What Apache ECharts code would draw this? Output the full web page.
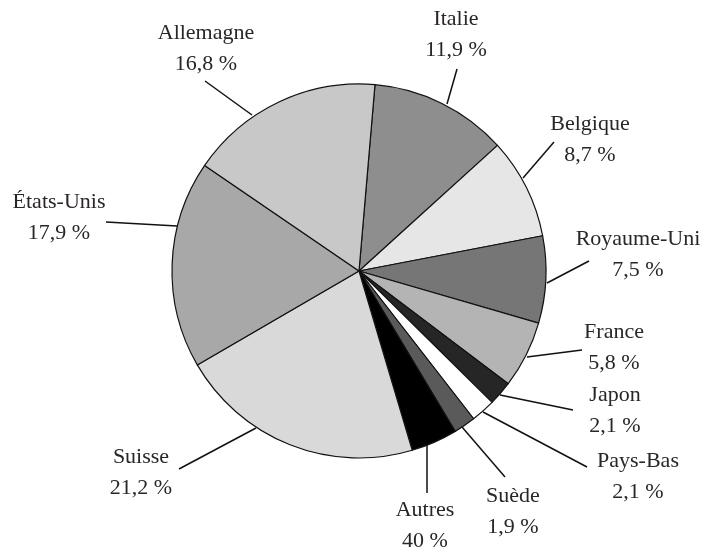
<!DOCTYPE html>
<html>
<head>
<meta charset="utf-8">
<style>
  html, body { margin: 0; padding: 0; background: #fff; }
  #pie { width: 708px; height: 553px; }
</style>
<script src="https://cdn.jsdelivr.net/npm/echarts@6/dist/echarts.min.js"></script>
</head>
<body>
<div id="pie"></div>
<script>
// données du graphique (sens horaire, à partir du haut)
var pays = ['Italie', 'Belgique', 'Royaume-Uni', 'France', 'Japon', 'Pays-Bas', 'Suède', 'Autres', 'Suisse', 'États-Unis', 'Allemagne'];
var parts = [11.9, 8.7, 7.5, 5.8, 2.1, 2.1, 1.9, 4.0, 21.2, 17.9, 16.8];
// libellés tels qu'imprimés
var libelles = ['11,9 %', '8,7 %', '7,5 %', '5,8 %', '2,1 %', '2,1 %', '1,9 %', '40 %', '21,2 %', '17,9 %', '16,8 %'];

// niveaux de gris des parts
var gris = ['#8e8e8e', '#e6e6e6', '#767676', '#b4b4b4', '#262626', '#ffffff', '#5a5a5a', '#000000', '#d9d9d9', '#a8a8a8', '#c8c8c8'];

// mise en page : centre du camembert et rayon
var CX = 359, CY = 271, R = 187;
// filets : [départ sur le bord, extrémité], décalages par rapport au centre
var filets = [
    [[88, -167], [98, -202]],
    [[164, -93], [195, -129]],
    [[188, 12], [230, -10]],
    [[168, 86], [223, 79]],
    [[141, 124], [214, 139]],
    [[124, 141], [228, 196]],
    [[103, 156], [146, 206]],
    [[68, 174], [68, 222]],
    [[-103, 157], [-180, 198]],
    [[-182, -45], [-253, -49]],
    [[-107, -156], [-154, -190]]
];
// centre du bloc de texte, décalage par rapport au centre
var blocs = [
    [97, -236], [231, -131], [279, -16], [255, 77], [256, 140], [279, 206],
    [154, 241], [66, 255], [-218, 202], [-300, -53], [-153, -222]
];

(function(){
    var dom = document.getElementById('pie');
    var myChart = echarts.init(dom);

    var data = [];
    for (var i = 0; i < pays.length; i++) {
        data.push({
            name: pays[i],
            value: parts[i],
            itemStyle: { color: gris[i] }
        });
    }

    var option = {
        animation: false,
        series: [
            {
                type: 'pie',
                center: [CX, CY],
                radius: R,
                startAngle: 85.1,
                clockwise: true,
                avoidLabelOverlap: false,
                emphasis: { disabled: true },
                itemStyle: {
                    borderColor: '#111',
                    borderWidth: 1.2
                },
                label: {
                    show: true,
                    position: 'outside',
                    fontFamily: '"Liberation Serif", "DejaVu Serif", serif',
                    fontSize: 22,
                    lineHeight: 31,
                    color: '#2a2627',
                    formatter: function(p){
                        return p.name + '\n' + libelles[p.dataIndex];
                    }
                },
                labelLine: {
                    show: true,
                    length: 20,
                    length2: 0,
                    lineStyle: {
                        color: '#111',
                        width: 1.5
                    }
                },
                labelLayout: function(params){
                    var k = params.dataIndex;
                    var f = filets[k];
                    return {
                        x: CX + blocs[k][0],
                        y: CY + blocs[k][1],
                        align: 'center',
                        verticalAlign: 'middle',
                        labelLinePoints: [
                            [CX + f[0][0], CY + f[0][1]],
                            [CX + f[1][0], CY + f[1][1]]
                        ]
                    };
                },
                data: data
            }
        ]
    };
    myChart.setOption(option);
    window.addEventListener('resize', function(){
        myChart.resize();
    });
})();
</script>
</body>
</html>
